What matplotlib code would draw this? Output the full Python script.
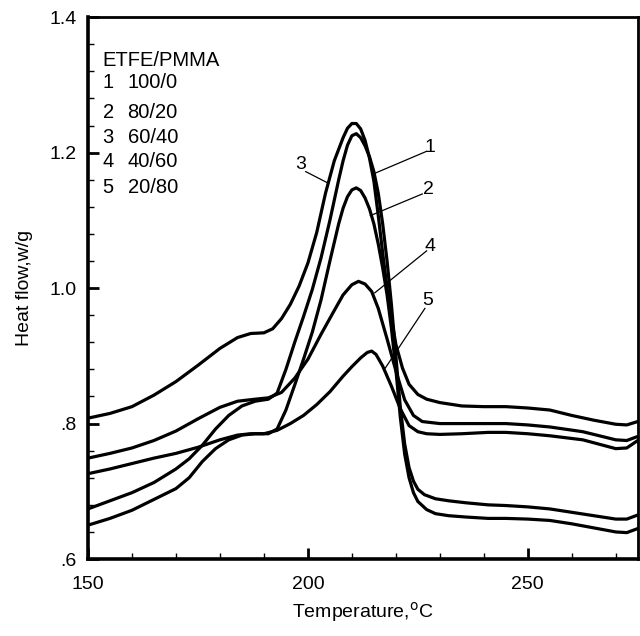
import matplotlib
matplotlib.use("Agg")
import matplotlib.pyplot as plt
from matplotlib.ticker import MultipleLocator

plt.rcParams['font.family'] = ['Liberation Sans', 'DejaVu Sans']

# ---- data ----
t3 = [150, 155, 160, 165, 170, 175, 180, 184, 187, 190, 192, 194, 196, 198, 200, 202, 204, 206, 208, 209, 210, 211, 212, 213, 214, 215, 216, 217, 218, 219, 220, 221.5, 223, 225, 227, 230, 235, 240, 245, 250, 255, 260, 265, 270, 272.5, 275]
y3 = [0.808, 0.815, 0.825, 0.842, 0.862, 0.886, 0.911, 0.927, 0.933, 0.934, 0.940, 0.955, 0.976, 1.003, 1.037, 1.082, 1.140, 1.188, 1.222, 1.236, 1.243, 1.243, 1.235, 1.218, 1.192, 1.158, 1.107, 1.052, 1.000, 0.955, 0.917, 0.882, 0.858, 0.843, 0.836, 0.831, 0.826, 0.825, 0.825, 0.823, 0.820, 0.812, 0.805, 0.799, 0.798, 0.803]

t1 = [150, 155, 160, 165, 170, 173, 176, 179, 182, 185, 188, 191, 193, 195, 197, 199, 201, 203, 205, 207, 208, 209, 210, 211, 212, 213, 214, 215, 216, 217, 218, 219, 220, 221, 222, 223, 224, 225, 226.5, 229, 232, 236, 241, 245, 250, 255, 260, 265, 270, 272.5, 275]
y1 = [0.674, 0.686, 0.698, 0.713, 0.733, 0.748, 0.768, 0.792, 0.812, 0.826, 0.833, 0.836, 0.845, 0.880, 0.920, 0.958, 0.998, 1.045, 1.100, 1.160, 1.188, 1.211, 1.225, 1.228, 1.222, 1.210, 1.194, 1.172, 1.140, 1.095, 1.040, 0.975, 0.900, 0.825, 0.770, 0.735, 0.715, 0.703, 0.695, 0.689, 0.686, 0.683, 0.680, 0.679, 0.677, 0.674, 0.669, 0.664, 0.659, 0.659, 0.665]

t2 = [150, 155, 160, 165, 170, 173, 176, 179, 182, 185, 188, 191, 193, 195, 197, 199, 201, 203, 205, 207, 208, 209, 210, 211, 212, 213, 214, 215, 216, 217, 218, 219, 220, 221, 222, 223, 224, 225, 227, 229, 232, 236, 241, 245, 250, 255, 260, 265, 270, 272.5, 275]
y2 = [0.650, 0.660, 0.672, 0.688, 0.704, 0.720, 0.744, 0.763, 0.776, 0.783, 0.785, 0.785, 0.792, 0.820, 0.857, 0.895, 0.935, 0.983, 1.040, 1.095, 1.118, 1.135, 1.145, 1.148, 1.144, 1.133, 1.117, 1.095, 1.065, 1.030, 0.990, 0.940, 0.880, 0.810, 0.755, 0.720, 0.698, 0.685, 0.673, 0.667, 0.664, 0.662, 0.660, 0.660, 0.659, 0.657, 0.652, 0.646, 0.640, 0.639, 0.645]

t4 = [150, 155, 160, 165, 170, 175, 180, 184, 188, 191, 194, 197, 200, 203, 206, 208, 210, 211.5, 213, 214.5, 216, 218, 220, 222, 224, 226, 230, 235, 241, 245, 250, 255, 262.5, 270, 272.5, 275]
y4 = [0.749, 0.756, 0.764, 0.775, 0.789, 0.807, 0.824, 0.833, 0.836, 0.838, 0.846, 0.867, 0.895, 0.932, 0.967, 0.990, 1.005, 1.010, 1.006, 0.995, 0.970, 0.925, 0.878, 0.835, 0.812, 0.803, 0.800, 0.800, 0.800, 0.800, 0.798, 0.795, 0.788, 0.776, 0.775, 0.781]

t5 = [150, 155, 160, 165, 170, 175, 180, 184, 187, 190, 193, 196, 199, 202, 205, 208, 210, 212, 213.5, 214.5, 215.5, 217, 219, 221, 223, 225, 227, 230, 235, 241, 245, 250, 255, 262.5, 270, 272.5, 275]
y5 = [0.726, 0.733, 0.741, 0.749, 0.756, 0.765, 0.776, 0.783, 0.785, 0.785, 0.790, 0.800, 0.812, 0.828, 0.847, 0.870, 0.884, 0.897, 0.905, 0.907, 0.902, 0.885, 0.855, 0.822, 0.797, 0.788, 0.785, 0.784, 0.785, 0.787, 0.787, 0.785, 0.782, 0.776, 0.763, 0.764, 0.775]

legend_title = "ETFE/PMMA"
legend_nums = ["1", "2", "3", "4", "5"]
legend_ratios = ["100/0", "80/20", "60/40", "40/60", "20/80"]

# curve labels: (label, text position, leader start, leader end on curve)
curve_labels = ["1", "2", "3", "4", "5"]
label_text_xy = [(227.8, 1.207), (227.3, 1.145), (198.3, 1.183), (227.8, 1.062), (227.3, 0.981)]
label_line_start = [(227.0, 1.202), (226.0, 1.139), (199.5, 1.172), (227.0, 1.055), (226.6, 0.970)]
label_line_end = [(215.4, 1.170), (214.2, 1.107), (204.6, 1.155), (215.2, 0.993), (217.6, 0.882)]

xticks = [150, 200, 250]
yticks = [0.6, 0.8, 1.0, 1.2, 1.4]
ytick_labels = [".6", ".8", "1.0", "1.2", "1.4"]

fig = plt.figure(figsize=(6.40, 6.36), dpi=100)
ax = fig.add_axes([0.1375, 0.121, 0.859, 0.852])

for t, y in [(t1, y1), (t2, y2), (t3, y3), (t4, y4), (t5, y5)]:
    ax.plot(t, y, color='black', lw=2.3, solid_joinstyle='round', solid_capstyle='round')

for lab, txy, s, e in zip(curve_labels, label_text_xy, label_line_start, label_line_end):
    ax.plot([s[0], e[0]], [s[1], e[1]], color='black', lw=0.9)
    ax.text(txy[0], txy[1], lab, fontsize=14, ha='center', va='center')

ax.set_xlim(150, 275)
ax.set_ylim(0.6, 1.4)

# legend block as text
ax.text(153.3, 1.336, legend_title, fontsize=14.5, ha='left', va='center')
legend_y = [1.304, 1.259, 1.222, 1.187, 1.148]
for n, r, yy in zip(legend_nums, legend_ratios, legend_y):
    ax.text(153.3, yy, n, fontsize=14.5, ha='left', va='center')
    ax.text(159.0, yy, r, fontsize=14.5, ha='left', va='center')

ax.set_xticks(xticks)
ax.xaxis.set_minor_locator(MultipleLocator(10))
ax.set_yticks(yticks)
ax.set_yticklabels(ytick_labels)
ax.yaxis.set_minor_locator(MultipleLocator(0.04))
ax.tick_params(axis='both', which='major', direction='in', length=8, width=2, labelsize=14)
ax.tick_params(axis='both', which='minor', direction='in', length=4, width=1)
ax.tick_params(axis='x', which='major', pad=12)
ax.tick_params(axis='y', which='major', pad=8)
ax.tick_params(top=False, right=False, which='both')

for side in ['left', 'bottom']:
    ax.spines[side].set_linewidth(2.6)
for side in ['top', 'right']:
    ax.spines[side].set_linewidth(2.0)

ax.set_xlabel("Temperature,$^{\\rm o}$C", fontsize=14, labelpad=5)
ax.set_ylabel("Heat flow,w/g", fontsize=14, labelpad=12)

fig.savefig("out.png", dpi=100)
